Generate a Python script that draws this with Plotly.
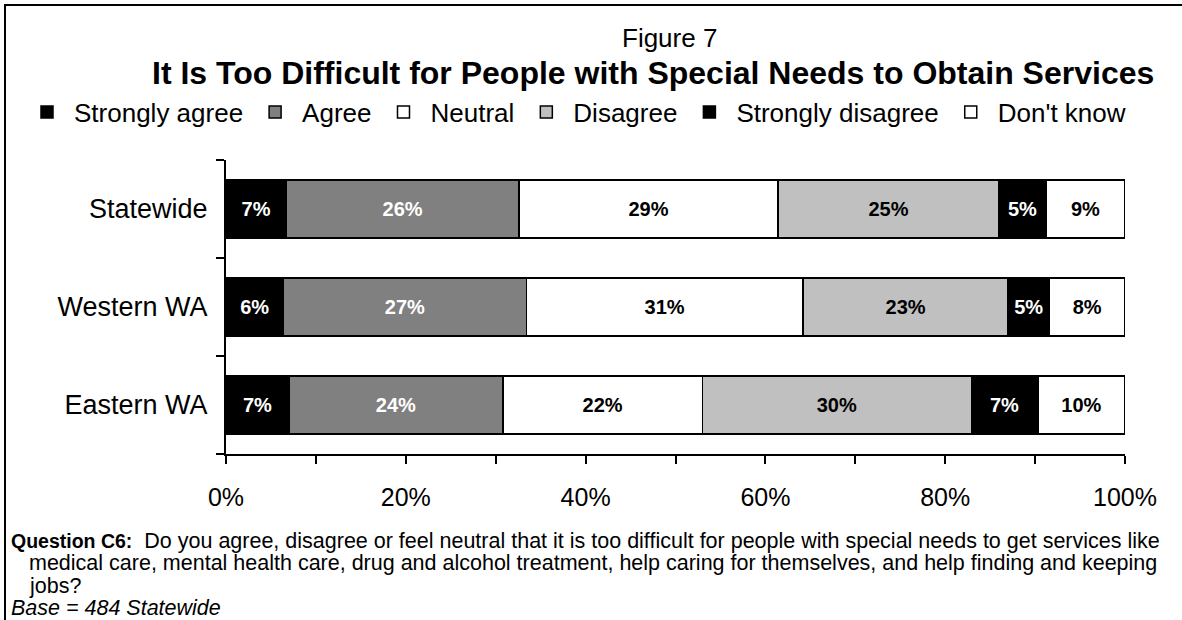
import plotly.graph_objects as go

# Survey results, percent of respondents per region
regions = ["Statewide", "Western WA", "Eastern WA"]
responses = ["Strongly agree", "Agree", "Neutral", "Disagree", "Strongly disagree", "Don't know"]
strongly_agree = [6.7, 6.4, 7.0]
agree = [25.9, 27.0, 23.8]
neutral = [28.8, 30.8, 22.2]
disagree = [24.6, 22.8, 29.9]
strongly_disagree = [5.2, 4.6, 7.4]
dont_know = [8.8, 8.4, 9.7]
x_tick_values = [0, 10, 20, 30, 40, 50, 60, 70, 80, 90, 100]
x_tick_labels = ["0%", "", "20%", "", "40%", "", "60%", "", "80%", "", "100%"]

series = [strongly_agree, agree, neutral, disagree, strongly_disagree, dont_know]
fills = ["#000000", "#808080", "#ffffff", "#c0c0c0", "#000000", "#ffffff"]
label_colors = ["#ffffff", "#ffffff", "#000000", "#000000", "#ffffff", "#000000"]

FONT = "Liberation Sans, Arial, sans-serif"
W, H = 1182, 620
L, R, T, B = 226, 57, 160, 166
plot_w = W - L - R
plot_h = H - T - B


def px_x(px):
    return (px - L) / plot_w


def px_y(py):
    return (H - B - py) / plot_h


fig = go.Figure()
for name, vals, fill, lc in zip(responses, series, fills, label_colors):
    fig.add_trace(go.Bar(
        name=name,
        y=regions,
        x=vals,
        orientation="h",
        width=0.59,
        marker=dict(color=fill, line=dict(color="#000000", width=1.5)),
        texttemplate="%{x:.0f}%",
        textposition="inside",
        insidetextanchor="middle",
        textangle=0,
        insidetextfont=dict(family=FONT, size=20, color=lc, weight="bold"),
        hoverinfo="skip",
    ))

fig.update_layout(
    barmode="stack",
    width=W,
    height=H,
    margin=dict(l=L, r=R, t=T, b=B, autoexpand=False),
    paper_bgcolor="#ffffff",
    plot_bgcolor="#ffffff",
    font=dict(family=FONT, color="#000000"),
    showlegend=True,
    legend=dict(
        orientation="h",
        x=px_x(20), xanchor="left",
        y=px_y(112), yanchor="middle",
        font=dict(family=FONT, size=26, color="#000000"),
        itemwidth=44,
        traceorder="normal",
        itemclick=False,
        bgcolor="rgba(0,0,0,0)",
        borderwidth=0,
    ),
    xaxis=dict(
        range=[0, 100],
        tickvals=x_tick_values,
        ticktext=x_tick_labels,
        ticks="outside",
        ticklen=8,
        tickwidth=2,
        tickcolor="#000000",
        showline=True,
        linewidth=2,
        linecolor="#000000",
        showgrid=False,
        zeroline=False,
        tickfont=dict(family=FONT, size=25, color="#000000"),
        ticklabelstandoff=12,
        fixedrange=True,
    ),
    yaxis=dict(
        categoryorder="array",
        categoryarray=regions[::-1],
        tickson="boundaries",
        ticks="outside",
        ticklen=8,
        tickwidth=2,
        tickcolor="#000000",
        showline=True,
        linewidth=2,
        linecolor="#000000",
        showgrid=False,
        zeroline=False,
        tickfont=dict(family=FONT, size=27, color="#000000"),
        ticklabelstandoff=11,
        fixedrange=True,
    ),
)

NOTE = 21.5
annotations = [
    dict(text="Figure 7", x=px_x(669), y=px_y(38), xanchor="center", yanchor="middle",
         font=dict(family=FONT, size=26)),
    dict(text="<b>It Is Too Difficult for People with Special Needs to Obtain Services</b>",
         x=px_x(653), y=px_y(73), xanchor="center", yanchor="middle",
         font=dict(family=FONT, size=32)),
    dict(text="<b><span style='font-size:19.5px'>Question C6:</span></b>  Do you agree, disagree or "
              "feel neutral that it is too difficult for people with special needs to get services like",
         x=px_x(9), y=px_y(541), xanchor="left", yanchor="middle",
         font=dict(family=FONT, size=NOTE)),
    dict(text="medical care, mental health care, drug and alcohol treatment, help caring for "
              "themselves, and help finding and keeping",
         x=px_x(27), y=px_y(563), xanchor="left", yanchor="middle",
         font=dict(family=FONT, size=NOTE)),
    dict(text="jobs?", x=px_x(27), y=px_y(586), xanchor="left", yanchor="middle",
         font=dict(family=FONT, size=NOTE)),
    dict(text="<i>Base = 484 Statewide</i>", x=px_x(9), y=px_y(608), xanchor="left",
         yanchor="middle", font=dict(family=FONT, size=NOTE)),
]
for a in annotations:
    a.update(xref="paper", yref="paper", showarrow=False)
fig.update_layout(annotations=annotations)

# outer frame around the whole figure
fig.add_shape(type="rect", xref="paper", yref="paper",
              x0=px_x(5), x1=px_x(W + 10), y0=px_y(H + 10), y1=px_y(5),
              line=dict(color="#000000", width=2), fillcolor="rgba(0,0,0,0)", layer="below")

fig.write_html("out.html", config={"displayModeBar": False})
